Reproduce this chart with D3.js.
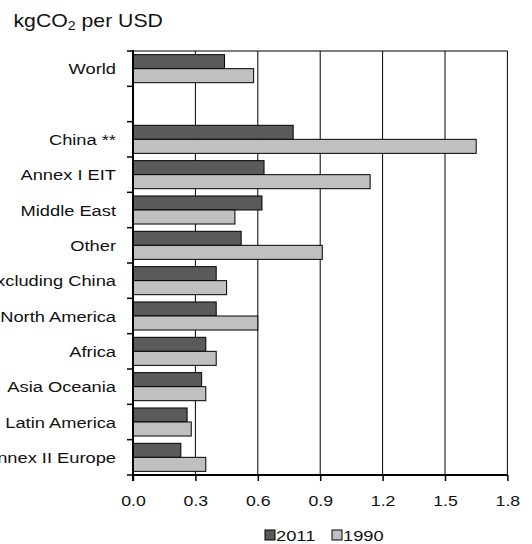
<!DOCTYPE html>
<html>
<head>
<meta charset="utf-8">
<script src="https://cdn.jsdelivr.net/npm/d3@7"></script>
<style>
  html, body { margin: 0; padding: 0; background: #fff; }
  svg { display: block; }
  text { font-family: "Liberation Sans", Arial, sans-serif; fill: #111; }
</style>
</head>
<body>
<div id="chart"></div>
<script>
// Carbon intensity by region, kgCO2 per USD of GDP
const categories = ["World", "", "China **", "Annex I EIT", "Middle East", "Other",
  "Asia excluding China", "North America", "Africa", "Asia Oceania",
  "Latin America", "Annex II Europe"];
const values2011 = [0.44, null, 0.77, 0.63, 0.62, 0.52, 0.40, 0.40, 0.35, 0.33, 0.26, 0.23];
const values1990 = [0.58, null, 1.65, 1.14, 0.49, 0.91, 0.45, 0.60, 0.40, 0.35, 0.28, 0.35];
const seriesNames = ["2011", "1990"];
const xTicks = [0, 0.3, 0.6, 0.9, 1.2, 1.5, 1.8];

const W = 532, H = 544;
const margin = { top: 51, right: 25, bottom: 69, left: 133 };
const colors = { "2011": "#5a5a5a", "1990": "#c0c0c0" };
const STRETCH = 1.18; // text is drawn slightly widened

const svg = d3.select("#chart").append("svg")
  .attr("width", W).attr("height", H);

// place a text at (px, py), widened horizontally
function place(sel, px, py) {
  return sel.attr("transform", (d, i) => {
    const tx = typeof px === "function" ? px(d, i) : px;
    const ty = typeof py === "function" ? py(d, i) : py;
    return `translate(${tx},${ty}) scale(${STRETCH},1)`;
  });
}

const x = d3.scaleLinear().domain([0, 1.8]).range([margin.left, W - margin.right + 0.4]);
const y = d3.scaleBand().domain(d3.range(categories.length))
  .range([margin.top, H - margin.bottom]).paddingInner(0).paddingOuter(0);
const inner = d3.scaleBand().domain(seriesNames)
  .range([0, y.bandwidth()]).paddingInner(0).paddingOuter(0.26);

// unit title
place(svg.append("text"), 13.5, 27)
  .style("font-size", "18px")
  .html('kgCO<tspan dy="3" style="font-size:12px">2</tspan><tspan dy="-3"> per USD</tspan>');

// vertical gridlines
svg.append("g").selectAll("line")
  .data(xTicks.slice(1))
  .join("line")
  .attr("x1", d => x(d)).attr("x2", d => x(d))
  .attr("y1", margin.top).attr("y2", H - margin.bottom)
  .attr("stroke", "#000").attr("stroke-width", 1);

// top frame line
svg.append("line")
  .attr("x1", x(0)).attr("x2", x(1.8))
  .attr("y1", margin.top).attr("y2", margin.top)
  .attr("stroke", "#000").attr("stroke-width", 1.2);

// bars
const rows = categories.map((c, i) => ({ i, c, v: { "2011": values2011[i], "1990": values1990[i] } }));
const gRows = svg.append("g").selectAll("g")
  .data(rows).join("g")
  .attr("transform", d => `translate(0,${y(d.i)})`);
gRows.selectAll("rect")
  .data(d => seriesNames.filter(s => d.v[s] != null).map(s => ({ s, v: d.v[s] })))
  .join("rect")
  .attr("x", x(0))
  .attr("y", d => inner(d.s))
  .attr("width", d => x(d.v) - x(0))
  .attr("height", inner.bandwidth())
  .attr("fill", d => colors[d.s])
  .attr("stroke", "#000").attr("stroke-width", 1);

// x axis
const xAxis = svg.append("g")
  .attr("transform", `translate(0,${H - margin.bottom})`)
  .call(d3.axisBottom(x).tickValues(xTicks).tickFormat(d3.format(".1f")).tickSize(6));
xAxis.select(".domain").attr("stroke-width", 2).attr("d", `M${x(0)},0H${x(1.8)}`);
xAxis.selectAll(".tick line").attr("stroke-width", 1.5);
xAxis.selectAll(".tick text").each(function () {
  const t = d3.select(this);
  t.attr("y", null).attr("dy", null);
  place(t, 0, 31);
}).style("font-size", "15px").attr("fill", "#111");

// y axis: ticks on category boundaries
const yAxisG = svg.append("g");
yAxisG.append("line")
  .attr("x1", x(0)).attr("x2", x(0))
  .attr("y1", margin.top - 1).attr("y2", H - margin.bottom + 6)
  .attr("stroke", "#000").attr("stroke-width", 2);
yAxisG.selectAll("line.tk")
  .data(d3.range(categories.length + 1))
  .join("line").attr("class", "tk")
  .attr("x1", x(0) - 6).attr("x2", x(0))
  .attr("y1", i => i < categories.length ? y(i) : y(categories.length - 1) + y.bandwidth())
  .attr("y2", i => i < categories.length ? y(i) : y(categories.length - 1) + y.bandwidth())
  .attr("stroke", "#000").attr("stroke-width", 1.5);
place(yAxisG.selectAll("text")
  .data(rows.filter(r => r.c))
  .join("text"), 116, d => y(d.i) + y.bandwidth() / 2)
  .attr("dy", "0.36em")
  .attr("text-anchor", "end")
  .style("font-size", "15.5px")
  .text(d => d.c);

// legend
const legend = svg.append("g").attr("transform", "translate(265,530)");
const items = legend.selectAll("g").data(seriesNames).join("g")
  .attr("transform", (d, i) => `translate(${i * 67},0)`);
items.append("rect")
  .attr("width", 10).attr("height", 10)
  .attr("fill", d => colors[d]).attr("stroke", "#000").attr("stroke-width", 1);
place(items.append("text"), 11, 10.5)
  .style("font-size", "15.5px")
  .text(d => d);
</script>
</body>
</html>
